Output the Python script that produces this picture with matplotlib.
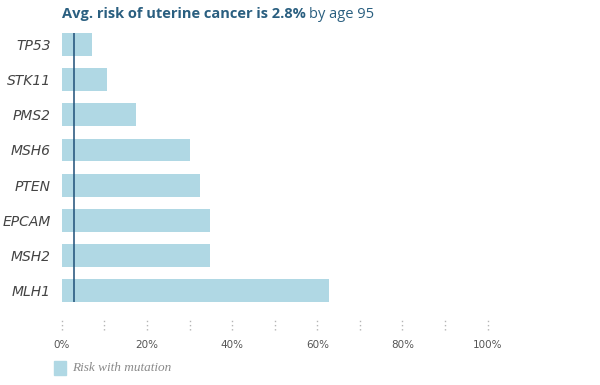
import matplotlib
matplotlib.use("Agg")
import matplotlib.pyplot as plt
from matplotlib.transforms import blended_transform_factory

genes = ["TP53", "STK11", "PMS2", "MSH6", "PTEN", "EPCAM", "MSH2", "MLH1"]
risk = [7.0, 10.6, 17.4, 30.1, 32.5, 34.8, 34.8, 62.7]
avg_risk = 2.8
dot_ticks = [0, 10, 20, 30, 40, 50, 60, 70, 80, 90, 100]
label_ticks = [0, 20, 40, 60, 80, 100]

bar_color = "#b0d8e4"
line_color = "#1f5078"
title_color = "#2a5f80"

fig = plt.figure(figsize=(6, 3.85), dpi=100)
ax = fig.add_axes([61.7 / 600, 0.2, 426 / 600, 0.7296])

ypos = list(range(len(genes)))
ax.barh(ypos, risk, height=0.65, color=bar_color, zorder=1)
ax.vlines(avg_risk, -0.325, len(genes) - 1 + 0.325, color=line_color, lw=1.1, zorder=2)

ax.set_xlim(0, 100)
ax.set_ylim(len(genes) - 0.5, -0.5)
ax.set_yticks(ypos)
ax.set_yticklabels(genes, fontstyle="italic", fontsize=10, color="#444444", family="DejaVu Sans")
ax.tick_params(axis="y", length=0, pad=8)
ax.set_xticks([])
for s in ax.spines.values():
    s.set_visible(False)

tr = blended_transform_factory(ax.transData, ax.transAxes)
ax.vlines(dot_ticks, -0.078, -0.043, transform=tr, colors="#b5b5b5",
          linestyles=(0, (1, 2)), lw=1, clip_on=False)
for t in label_ticks:
    ax.text(t, -0.132, f"{t}%", transform=tr, ha="center", va="center",
            fontsize=7.5, color="#555555", family="DejaVu Sans")

# title: bold part + regular part
t1 = fig.text(62 / 600, 1 - 14 / 385, f"Avg. risk of uterine cancer is {avg_risk}%",
              ha="left", va="center", fontsize=10.5, fontweight="bold",
              color=title_color, family="Open Sans")
fig.canvas.draw()
bb = t1.get_window_extent()
fig.text(bb.x1 / 600 + 0.006, 1 - 14 / 385, "by age 95", ha="left", va="center",
         fontsize=10.5, color=title_color, family="Open Sans")

# legend
fig.patches.append(plt.Rectangle((54 / 600, 1 - 375 / 385), 12 / 600, 14 / 385,
                                 transform=fig.transFigure, color=bar_color))
fig.text(72 / 600, 1 - 368 / 385, "Risk with mutation", ha="left", va="center",
         fontsize=9.5, fontstyle="italic", color="#8a8a8a", family="Liberation Serif")

fig.savefig("out.png", dpi=100)
